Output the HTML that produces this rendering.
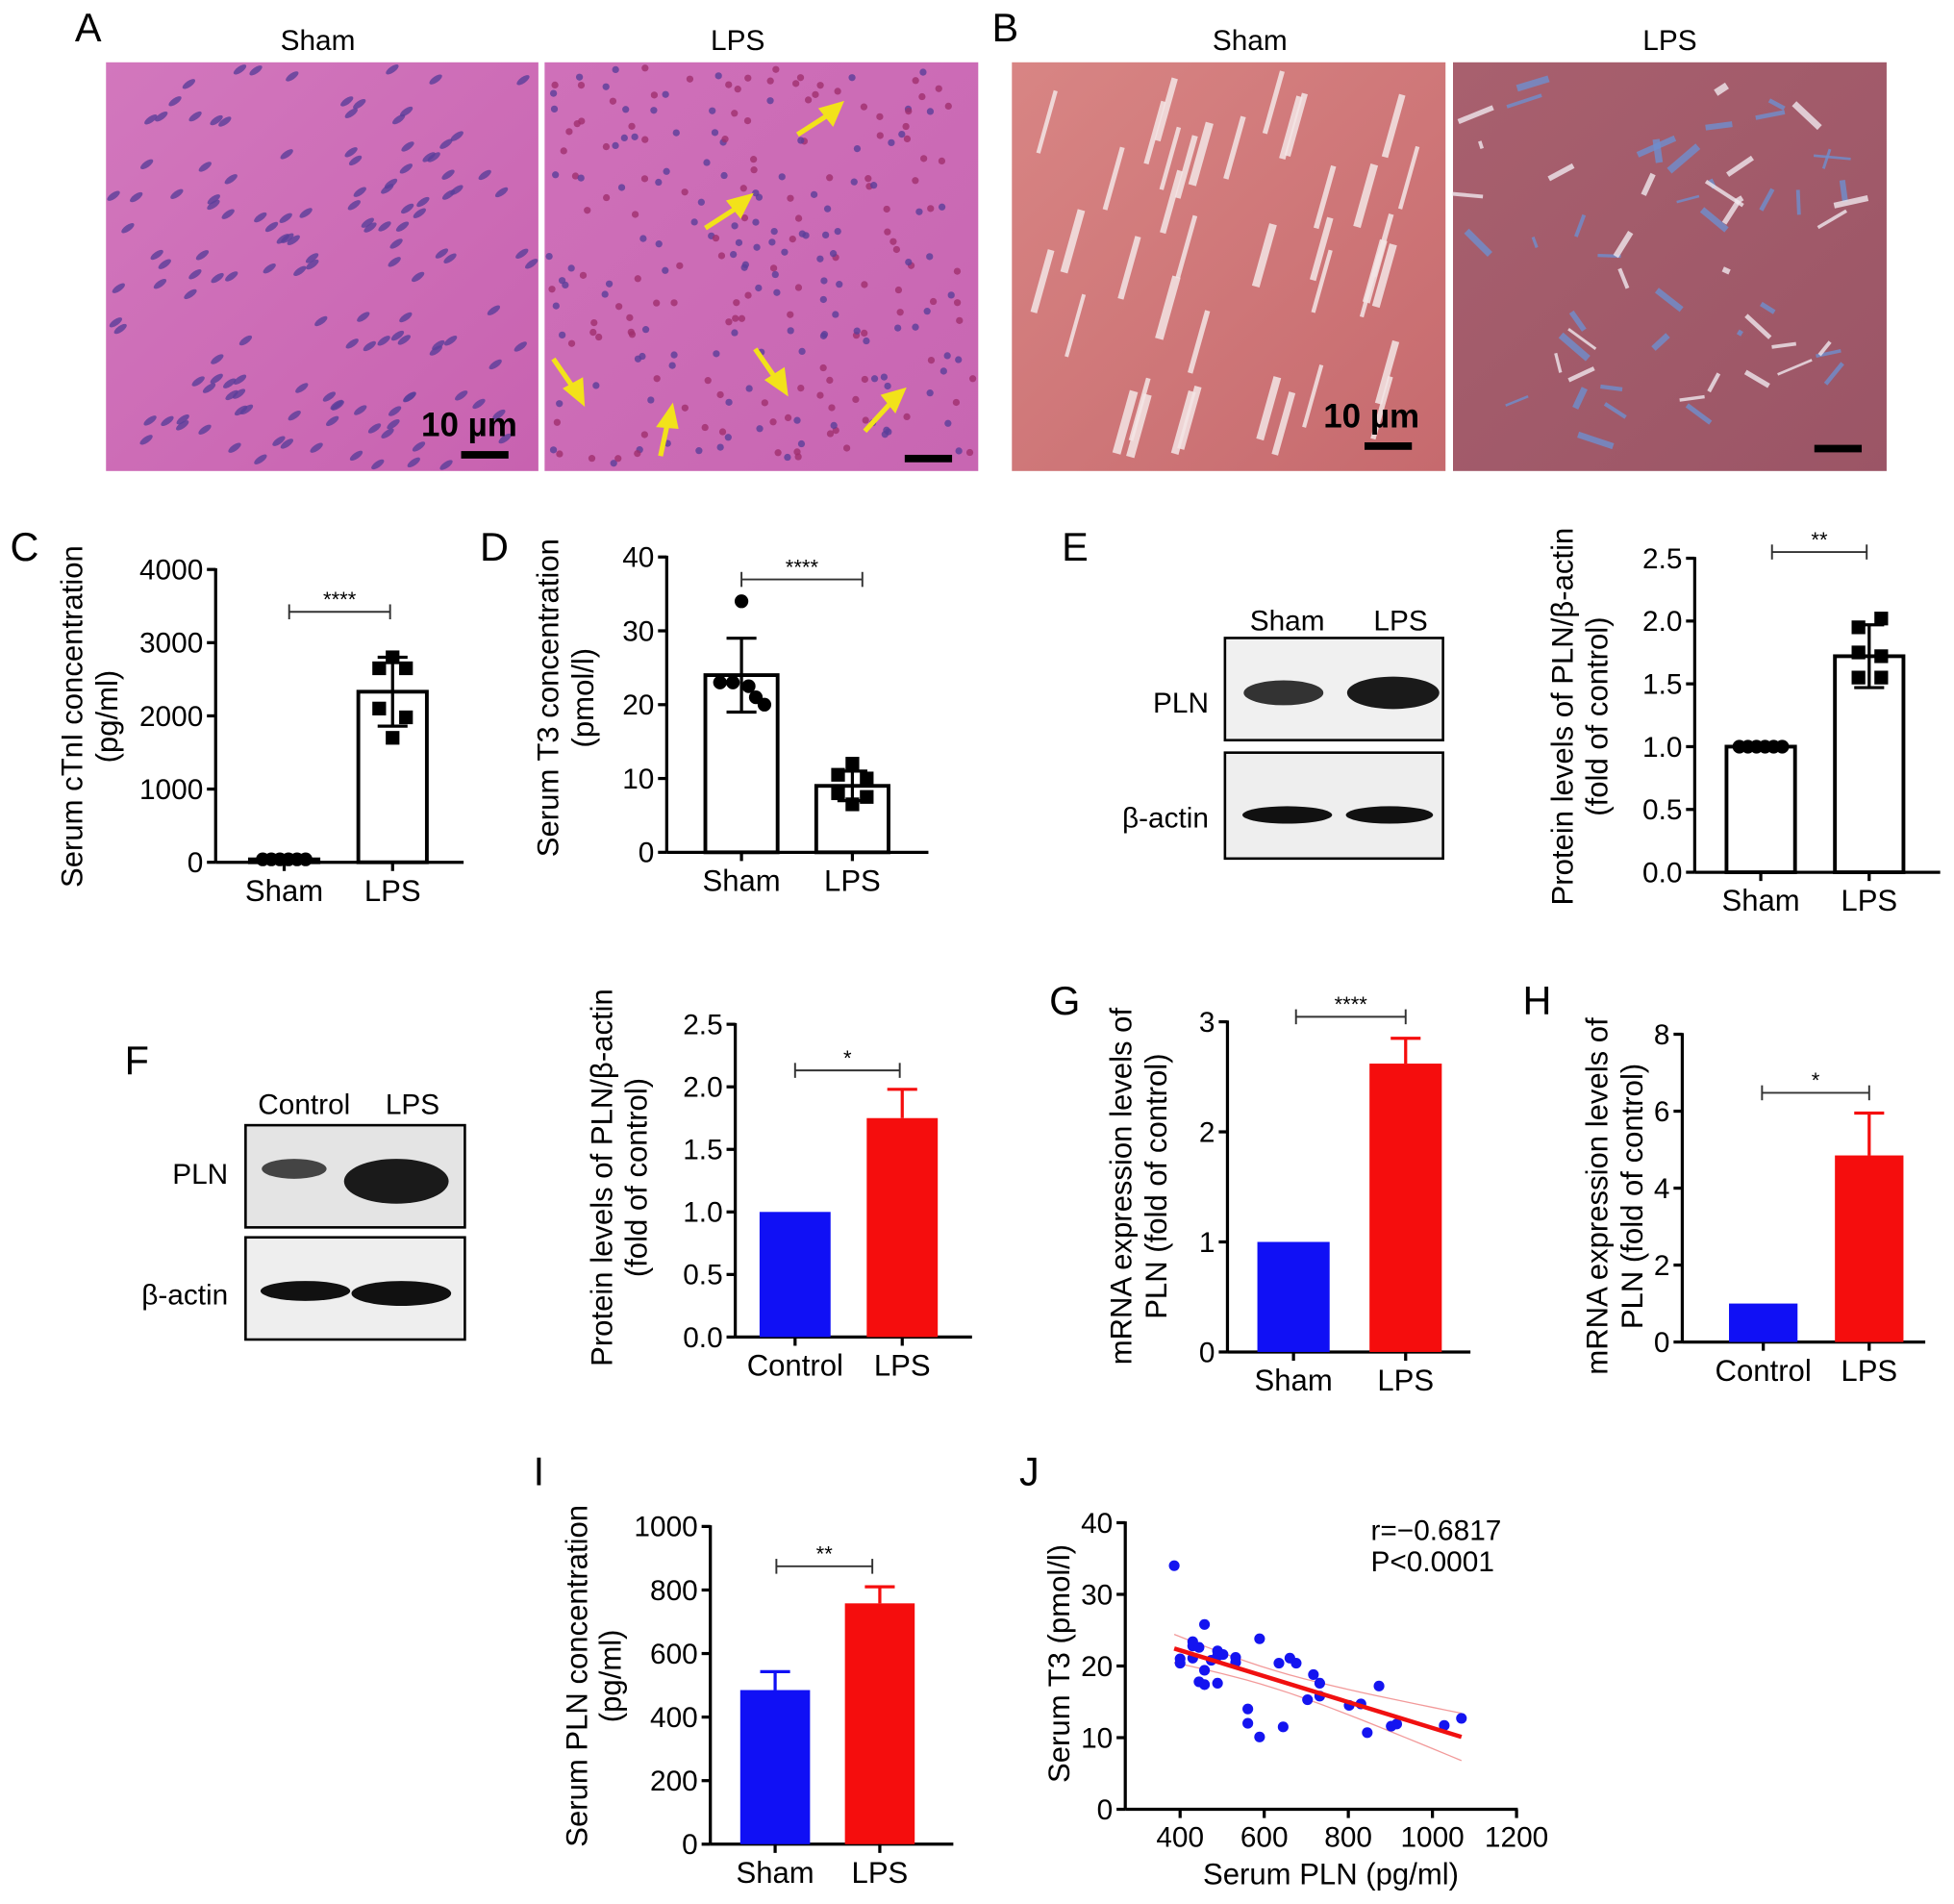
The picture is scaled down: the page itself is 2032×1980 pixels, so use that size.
<!DOCTYPE html>
<html><head><meta charset="utf-8"><style>
html,body{margin:0;padding:0;background:#fff;}
svg{display:block;font-family:"Liberation Sans",Arial,sans-serif;}
</style></head><body>
<svg id="fig" width="2032" height="1980" viewBox="0 0 1568 1528" xmlns="http://www.w3.org/2000/svg">
<defs>
<linearGradient id="gHE" x1="0" y1="0" x2="1" y2="1"><stop offset="0" stop-color="#d277bd"/><stop offset="1" stop-color="#c862b0"/></linearGradient>
<linearGradient id="gHE2" x1="0" y1="0" x2="1" y2="1"><stop offset="0" stop-color="#cf70b9"/><stop offset="1" stop-color="#c866b2"/></linearGradient>
<linearGradient id="gM1" x1="0" y1="0" x2="1" y2="1"><stop offset="0" stop-color="#d88584"/><stop offset="1" stop-color="#c66a6e"/></linearGradient>
<linearGradient id="gM2" x1="0" y1="0" x2="1" y2="1"><stop offset="0" stop-color="#a8606e"/><stop offset="1" stop-color="#9b5566"/></linearGradient>
</defs>
<g id="panelA">
<text x="60" y="33" font-size="32">A</text>
<text x="255" y="40" font-size="23" text-anchor="middle">Sham</text>
<text x="592" y="40" font-size="23" text-anchor="middle">LPS</text>
<rect x="85" y="50" width="347" height="328" fill="url(#gHE)"/>
<rect x="437" y="50" width="348" height="328" fill="url(#gHE2)"/>
<g id="nucA"></g>
<text x="338" y="350" font-size="27" font-weight="bold">10 µm</text>
<rect x="370" y="362" width="38" height="6" fill="#000"/>
<rect x="726" y="365" width="38" height="6" fill="#000"/>
<g stroke="#f2e21a" stroke-width="4" fill="#f2e21a">
<line x1="640" y1="108" x2="668" y2="90"/><polygon points="674,84 660,88 668,98"/>
<line x1="566" y1="183" x2="594" y2="165"/><polygon points="601,158 586,162 594,172"/>
<line x1="444" y1="288" x2="462" y2="314"/><polygon points="467,322 455,312 466,306"/>
<line x1="530" y1="366" x2="536" y2="338"/><polygon points="539,328 530,341 542,342"/>
<line x1="606" y1="280" x2="624" y2="306"/><polygon points="630,314 617,305 628,298"/>
<line x1="694" y1="346" x2="716" y2="322"/><polygon points="724,314 710,318 718,328"/>
</g>
</g>
<g id="panelB">
<text x="796" y="33" font-size="32">B</text>
<text x="1003" y="40" font-size="23" text-anchor="middle">Sham</text>
<text x="1340" y="40" font-size="23" text-anchor="middle">LPS</text>
<rect x="812" y="50" width="348" height="328" fill="url(#gM1)"/>
<rect x="1166" y="50" width="348" height="328" fill="url(#gM2)"/>
<g id="streakB"></g>
<text x="1062" y="343" font-size="27" font-weight="bold">10 µm</text>
<rect x="1095" y="355" width="38" height="6" fill="#000"/>
<rect x="1456" y="357" width="38" height="6" fill="#000"/>
</g>

<g>
<text x="852" y="450" font-size="32">E</text>
<text x="1033" y="506" font-size="23" text-anchor="middle">Sham</text>
<text x="1124" y="506" font-size="23" text-anchor="middle">LPS</text>
<text x="970" y="572" font-size="23" text-anchor="end">PLN</text>
<text x="970" y="664" font-size="23" text-anchor="end">β-actin</text>
<rect x="983" y="512" width="175" height="82" fill="#f0f0f0" stroke="#000" stroke-width="2"/>
<ellipse cx="1030" cy="556" rx="32" ry="10" fill="#333"/>
<ellipse cx="1118" cy="556" rx="37" ry="13" fill="#1a1a1a"/>
<rect x="983" y="604" width="175" height="85" fill="#eee" stroke="#000" stroke-width="2"/>
<ellipse cx="1033" cy="654" rx="36" ry="7" fill="#111"/>
<ellipse cx="1115" cy="654" rx="35" ry="7" fill="#111"/>
</g>
<g>
<text x="100" y="862" font-size="32">F</text>
<text x="244" y="894" font-size="23" text-anchor="middle">Control</text>
<text x="331" y="894" font-size="23" text-anchor="middle">LPS</text>
<text x="183" y="950" font-size="23" text-anchor="end">PLN</text>
<text x="183" y="1047" font-size="23" text-anchor="end">β-actin</text>
<rect x="197" y="903" width="176" height="82" fill="#e4e4e4" stroke="#000" stroke-width="2"/>
<ellipse cx="236" cy="938" rx="26" ry="8" fill="#444"/>
<ellipse cx="318" cy="948" rx="42" ry="18" fill="#1a1a1a"/>
<rect x="197" y="993" width="176" height="82" fill="#eee" stroke="#000" stroke-width="2"/>
<ellipse cx="245" cy="1036" rx="36" ry="8" fill="#111"/>
<ellipse cx="322" cy="1038" rx="40" ry="10" fill="#111"/>
</g>
<text x="8" y="450" font-size="32">C</text>
<text x="385" y="450" font-size="32">D</text>
<text x="842" y="814" font-size="32">G</text>
<text x="1222" y="814" font-size="32">H</text>
<text x="428" y="1192" font-size="32">I</text>
<text x="818" y="1192" font-size="32">J</text>
<g id="charts"></g>
</svg>
<script>
// ---- data ----
const catsShamLps = ["Sham","LPS"];
const catsCtrlLps = ["Control","LPS"];
const cMeans = [40, 2330];
const cErr = [15, 470];
const cPtsSham = [40,40,40,40,40,40];
const cPtsLps = [2800,2650,2650,2100,1980,1700];
const cTicks = ["0","1000","2000","3000","4000"];
const dMeans = [24, 9];
const dErr = [5, 2];
const dPtsSham = [23,23,34,22.5,21,20];
const dPtsLps = [12,10.5,10,8,7.5,6.5];
const dTicks = ["0","10","20","30","40"];
const eMeans = [1.0, 1.72];
const eErr = [0, 0.25];
const ePtsSham = [1,1,1,1,1,1];
const ePtsLps = [1.95,2.02,1.75,1.72,1.55,1.55];
const eTicks = ["0.0","0.5","1.0","1.5","2.0","2.5"];
const fMeans = [1.0, 1.75];
const fErr = [0, 0.23];
const fTicks = ["0.0","0.5","1.0","1.5","2.0","2.5"];
const gMeans = [1.0, 2.62];
const gErr = [0, 0.23];
const gTicks = ["0","1","2","3"];
const hMeans = [1.0, 4.85];
const hErr = [0, 1.1];
const hTicks = ["0","2","4","6","8"];
const iMeans = [485, 758];
const iErr = [58, 52];
const iTicks = ["0","200","400","600","800","1000"];
const jX = [386,400,400,430,430,430,445,445,458,458,458,474,489,489,489,502,532,532,561,561,589,589,635,645,661,676,703,717,732,732,802,830,845,873,902,915,1028,1069];
const jY = [34,21,20.4,23.4,22.8,21.1,22.6,17.8,17.4,25.8,19.4,20.8,22.1,21.4,17.6,21.6,21.2,20.5,14.0,12.0,23.8,10.1,20.4,11.5,21.1,20.4,15.3,18.8,17.6,15.8,14.5,14.7,10.7,17.2,11.6,11.9,11.7,12.7];
const jXTicks = ["400","600","800","1000","1200"];
const jYTicks = ["0","10","20","30","40"];

const NS="http://www.w3.org/2000/svg";
const root=document.getElementById('charts');
function mk(tag,attrs,parent){const e=document.createElementNS(NS,tag);for(const k in attrs)e.setAttribute(k,attrs[k]);(parent||root).appendChild(e);return e;}
const JIT_LINE=[-0.8,-0.48,-0.16,0.16,0.48,0.8];
const JIT_ZIG=[0,-0.5,0.5,-0.5,0.5,0];

function barChart(o){
  const g=mk('g',{});
  
  
  const ymax=parseFloat(o.ticks[o.ticks.length-1]);
  const Y=v=>o.y0-(v/ymax)*(o.y0-o.yTop);
  const ax=mk('line',{x1:o.ax,y1:o.yTop-1,x2:o.ax,y2:o.y0,stroke:'#000','stroke-width':2.5},g);
  
  
  const xa=mk('line',{x1:o.ax,y1:o.y0,x2:o.xEnd,y2:o.y0,stroke:'#000','stroke-width':2.5},g);
  
  
  o.ticks.forEach(t=>{const y=Y(parseFloat(t));
    mk('line',{x1:o.ax-7,y1:y,x2:o.ax,y2:y,stroke:'#000','stroke-width':2.5},g);
    const tx=mk('text',{x:o.ax-10,y:y+8,'font-size':23,'text-anchor':'end'},g);tx.textContent=t;
    
    
  });
  o.cats.forEach((c,i)=>{
    const cx=o.centers[i],v=o.means[i],w=o.bw;
    const col=o.colors?o.colors[i]:'#fff';
    const b=mk('rect',{x:cx-w/2,y:Y(v),width:w,height:o.y0-Y(v),fill:col,stroke:o.colors?'none':'#000','stroke-width':3},g);
    
    
    const ec=o.colors?o.colors[i]:'#000';
    if(o.err[i]>0){
      const lo=o.colors?v:v-o.err[i];
      mk('line',{x1:cx,y1:Y(v+o.err[i]),x2:cx,y2:Y(lo),stroke:ec,'stroke-width':2.5},g);
      mk('line',{x1:cx-12,y1:Y(v+o.err[i]),x2:cx+12,y2:Y(v+o.err[i]),stroke:ec,'stroke-width':2.5},g);
      if(!o.colors) mk('line',{x1:cx-12,y1:Y(lo),x2:cx+12,y2:Y(lo),stroke:ec,'stroke-width':2.5},g);
    }
    mk('line',{x1:cx,y1:o.y0,x2:cx,y2:o.y0+7,stroke:'#000','stroke-width':2.5},g);
    const tl=mk('text',{x:cx,y:o.y0+31,'font-size':24,'text-anchor':'middle'},g);tl.textContent=c;
    
    
    if(o.pts){const ps=o.pts[i];const jit=o.jit[i];ps.forEach((p,k)=>{
      const px=cx+jit[k]*(w/2-6);
      let m;
      if(o.shapes[i]==='c') m=mk('circle',{cx:px,cy:Y(p),r:5.5,fill:'#000'},g);
      else m=mk('rect',{x:px-5.5,y:Y(p)-5.5,width:11,height:11,fill:'#000'},g);
      
      
    });}
  });
  const by=o.bracket[2];
  mk('line',{x1:o.bracket[0],y1:by,x2:o.bracket[1],y2:by,stroke:'#333','stroke-width':1.5},g);
  mk('line',{x1:o.bracket[0],y1:by-6,x2:o.bracket[0],y2:by+6,stroke:'#333','stroke-width':1.5},g);
  mk('line',{x1:o.bracket[1],y1:by-6,x2:o.bracket[1],y2:by+6,stroke:'#333','stroke-width':1.5},g);
  const st=mk('text',{x:(o.bracket[0]+o.bracket[1])/2,y:by-4,'font-size':17,'text-anchor':'middle'},g);st.textContent=o.stars;
  
  
  o.ylab.forEach((l,k)=>{
    const t=mk('text',{x:0,y:0,'font-size':24,'text-anchor':'middle',transform:`translate(${o.ylx[k]},${o.ylc}) rotate(-90)`},g);t.textContent=l;
    
    
  });
}
const RED='#f50d0d',BLUE='#1010f5';
barChart({name:'chart-c-ctni',ax:173,y0:692,yTop:457,xEnd:372,ticks:cTicks,cats:catsShamLps,centers:[228,315],bw:55,means:cMeans,err:cErr,pts:[cPtsSham,cPtsLps],shapes:['c','s'],jit:[JIT_LINE,JIT_ZIG],bracket:[232,313,491],stars:'****',ylab:['Serum cTnI concentration','(pg/ml)'],ylx:[66,94],ylc:575});
barChart({name:'chart-d-t3',ax:535,y0:684,yTop:447,xEnd:745,ticks:dTicks,cats:catsShamLps,centers:[595,684],bw:58,means:dMeans,err:dErr,pts:[dPtsSham,dPtsLps],shapes:['c','s'],jit:[[-0.75,-0.3,0,0.25,0.5,0.8],JIT_ZIG],bracket:[595,692,465],stars:'****',ylab:['Serum T3 concentration','(pmol/l)'],ylx:[448,476],ylc:560});
barChart({name:'chart-e-pln-protein',ax:1360,y0:700,yTop:448,xEnd:1557,ticks:eTicks,cats:catsShamLps,centers:[1413,1500],bw:55,means:eMeans,err:eErr,pts:[ePtsSham,ePtsLps],shapes:['c','s'],jit:[JIT_LINE,[-0.4,0.45,-0.4,0.45,-0.4,0.45]],bracket:[1422,1498,443],stars:'**',ylab:['Protein levels of PLN/β-actin','(fold of control)'],ylx:[1262,1290],ylc:575});
barChart({name:'chart-f-pln-protein',ax:590,y0:1073,yTop:822,xEnd:780,ticks:fTicks,cats:catsCtrlLps,centers:[638,724],bw:57,means:fMeans,err:fErr,colors:[BLUE,RED],bracket:[638,722,859],stars:'*',ylab:['Protein levels of PLN/β-actin','(fold of control)'],ylx:[491,519],ylc:945});
barChart({name:'chart-g-pln-mrna',ax:985,y0:1085,yTop:820,xEnd:1180,ticks:gTicks,cats:catsShamLps,centers:[1038,1128],bw:58,means:gMeans,err:gErr,colors:[BLUE,RED],bracket:[1040,1128,816],stars:'****',ylab:['mRNA expression levels of','PLN (fold of control)'],ylx:[908,936],ylc:952});
barChart({name:'chart-h-pln-mrna',ax:1350,y0:1077,yTop:830,xEnd:1545,ticks:hTicks,cats:catsCtrlLps,centers:[1415,1500],bw:55,means:hMeans,err:hErr,colors:[BLUE,RED],bracket:[1414,1500,877],stars:'*',ylab:['mRNA expression levels of','PLN (fold of control)'],ylx:[1290,1318],ylc:960});
barChart({name:'chart-i-serum-pln',ax:570,y0:1480,yTop:1225,xEnd:765,ticks:iTicks,cats:catsShamLps,centers:[622,706],bw:56,means:iMeans,err:iErr,colors:[BLUE,RED],bracket:[623,700,1257],stars:'**',ylab:['Serum PLN concentration','(pg/ml)'],ylx:[471,498],ylc:1345});

// ---- scatter J ----
(function(){
  const g=mk('g',{});
  
  
  const ax=903,y0=1452,yTop=1222,xEnd=1218;
  const X=v=>947+(v-400)*(67.5/200);
  const Y=v=>y0-v/40*(y0-yTop);
  mk('line',{x1:ax,y1:yTop-1,x2:ax,y2:y0,stroke:'#000','stroke-width':2.5},g);
  mk('line',{x1:ax,y1:y0,x2:xEnd,y2:y0,stroke:'#000','stroke-width':2.5},g);
  jYTicks.forEach(t=>{const y=Y(+t);mk('line',{x1:ax-7,y1:y,x2:ax,y2:y,stroke:'#000','stroke-width':2.5},g);
    const tx=mk('text',{x:ax-10,y:y+8,'font-size':23,'text-anchor':'end'},g);tx.textContent=t;
    
    });
  jXTicks.forEach(t=>{const x=X(+t);mk('line',{x1:x,y1:y0,x2:x,y2:y0+7,stroke:'#000','stroke-width':2.5},g);
    const tx=mk('text',{x:x,y:y0+30,'font-size':23,'text-anchor':'middle'},g);tx.textContent=t;
    
    });
  const n=jX.length,mx=jX.reduce((a,b)=>a+b)/n,my=jY.reduce((a,b)=>a+b)/n;
  let sxx=0,sxy=0;for(let i=0;i<n;i++){sxx+=(jX[i]-mx)**2;sxy+=(jX[i]-mx)*(jY[i]-my);}
  const b=sxy/sxx,a=my-b*mx;let sse=0;for(let i=0;i<n;i++)sse+=(jY[i]-a-b*jX[i])**2;
  const se=Math.sqrt(sse/(n-2));const x0=Math.min(...jX),x1=Math.max(...jX);
  [1,-1].forEach(s=>{let d='';for(let k=0;k<=20;k++){const x=x0+(x1-x0)*k/20;const h=2.03*se*Math.sqrt(1/n+(x-mx)**2/sxx);d+=(k?'L':'M')+X(x)+','+Y(a+b*x+s*h);}
    const p=mk('path',{d:d,fill:'none',stroke:'#f29a9a','stroke-width':1},g);
    
    });
  jX.forEach((x,i)=>{const c=mk('circle',{cx:X(x),cy:Y(jY[i]),r:4.3,fill:'#1414f0'},g);
    
    });
  const l=mk('line',{x1:X(x0),y1:Y(a+b*x0),x2:X(x1),y2:Y(a+b*x1),stroke:'#f01010','stroke-width':3.5},g);
  
  
  const t1=mk('text',{x:1100,y:1236,'font-size':23},g);t1.textContent='r=−0.6817';
  
  
  const t2=mk('text',{x:1100,y:1261,'font-size':23},g);t2.textContent='P<0.0001';
  
  
  const yl=mk('text',{x:0,y:0,'font-size':24,'text-anchor':'middle',transform:'translate(858,1335) rotate(-90)'},g);yl.textContent='Serum T3 (pmol/l)';
  
  
  const xl=mk('text',{x:1068,y:1512,'font-size':24,'text-anchor':'middle'},g);xl.textContent='Serum PLN (pg/ml)';
  
  
})();

// ---- histology texture (decorative) ----
(function(){
  let s=12345;const r=()=>{s=(s*1103515245+12345)%2147483648;return s/2147483648;};
  const nA=document.getElementById('nucA');
  for(let i=0;i<140;i++){const x=88+r()*340,y=54+r()*320;
    mk('ellipse',{cx:x,cy:y,rx:6,ry:2.5,fill:'#5a3f9a',opacity:0.8,transform:`rotate(-35 ${x} ${y})`},nA);}
  for(let i=0;i<260;i++){const x=440+r()*342,y=54+r()*320;
    mk('circle',{cx:x,cy:y,r:2.8,fill:r()<0.5?'#5a3f9a':'#a0306e',opacity:0.8},nA);}
  const sb=document.getElementById('streakB');
  for(let i=0;i<40;i++){const x=815+r()*320,y=80+r()*270;
    mk('line',{x1:x,y1:y+25,x2:x+14,y2:y-25,stroke:'#f4e6e6','stroke-width':3+r()*4,opacity:0.85},sb);}
  for(let i=0;i<60;i++){const x=1185+r()*300,y=70+r()*280;
    mk('line',{x1:x,y1:y,x2:x+(r()-0.5)*60,y2:y+(r()-0.5)*40,stroke:r()<0.5?'#f0e8ee':'#6f8fcf','stroke-width':2+r()*4,opacity:0.8},sb);}
})();
</script>
</body></html>
